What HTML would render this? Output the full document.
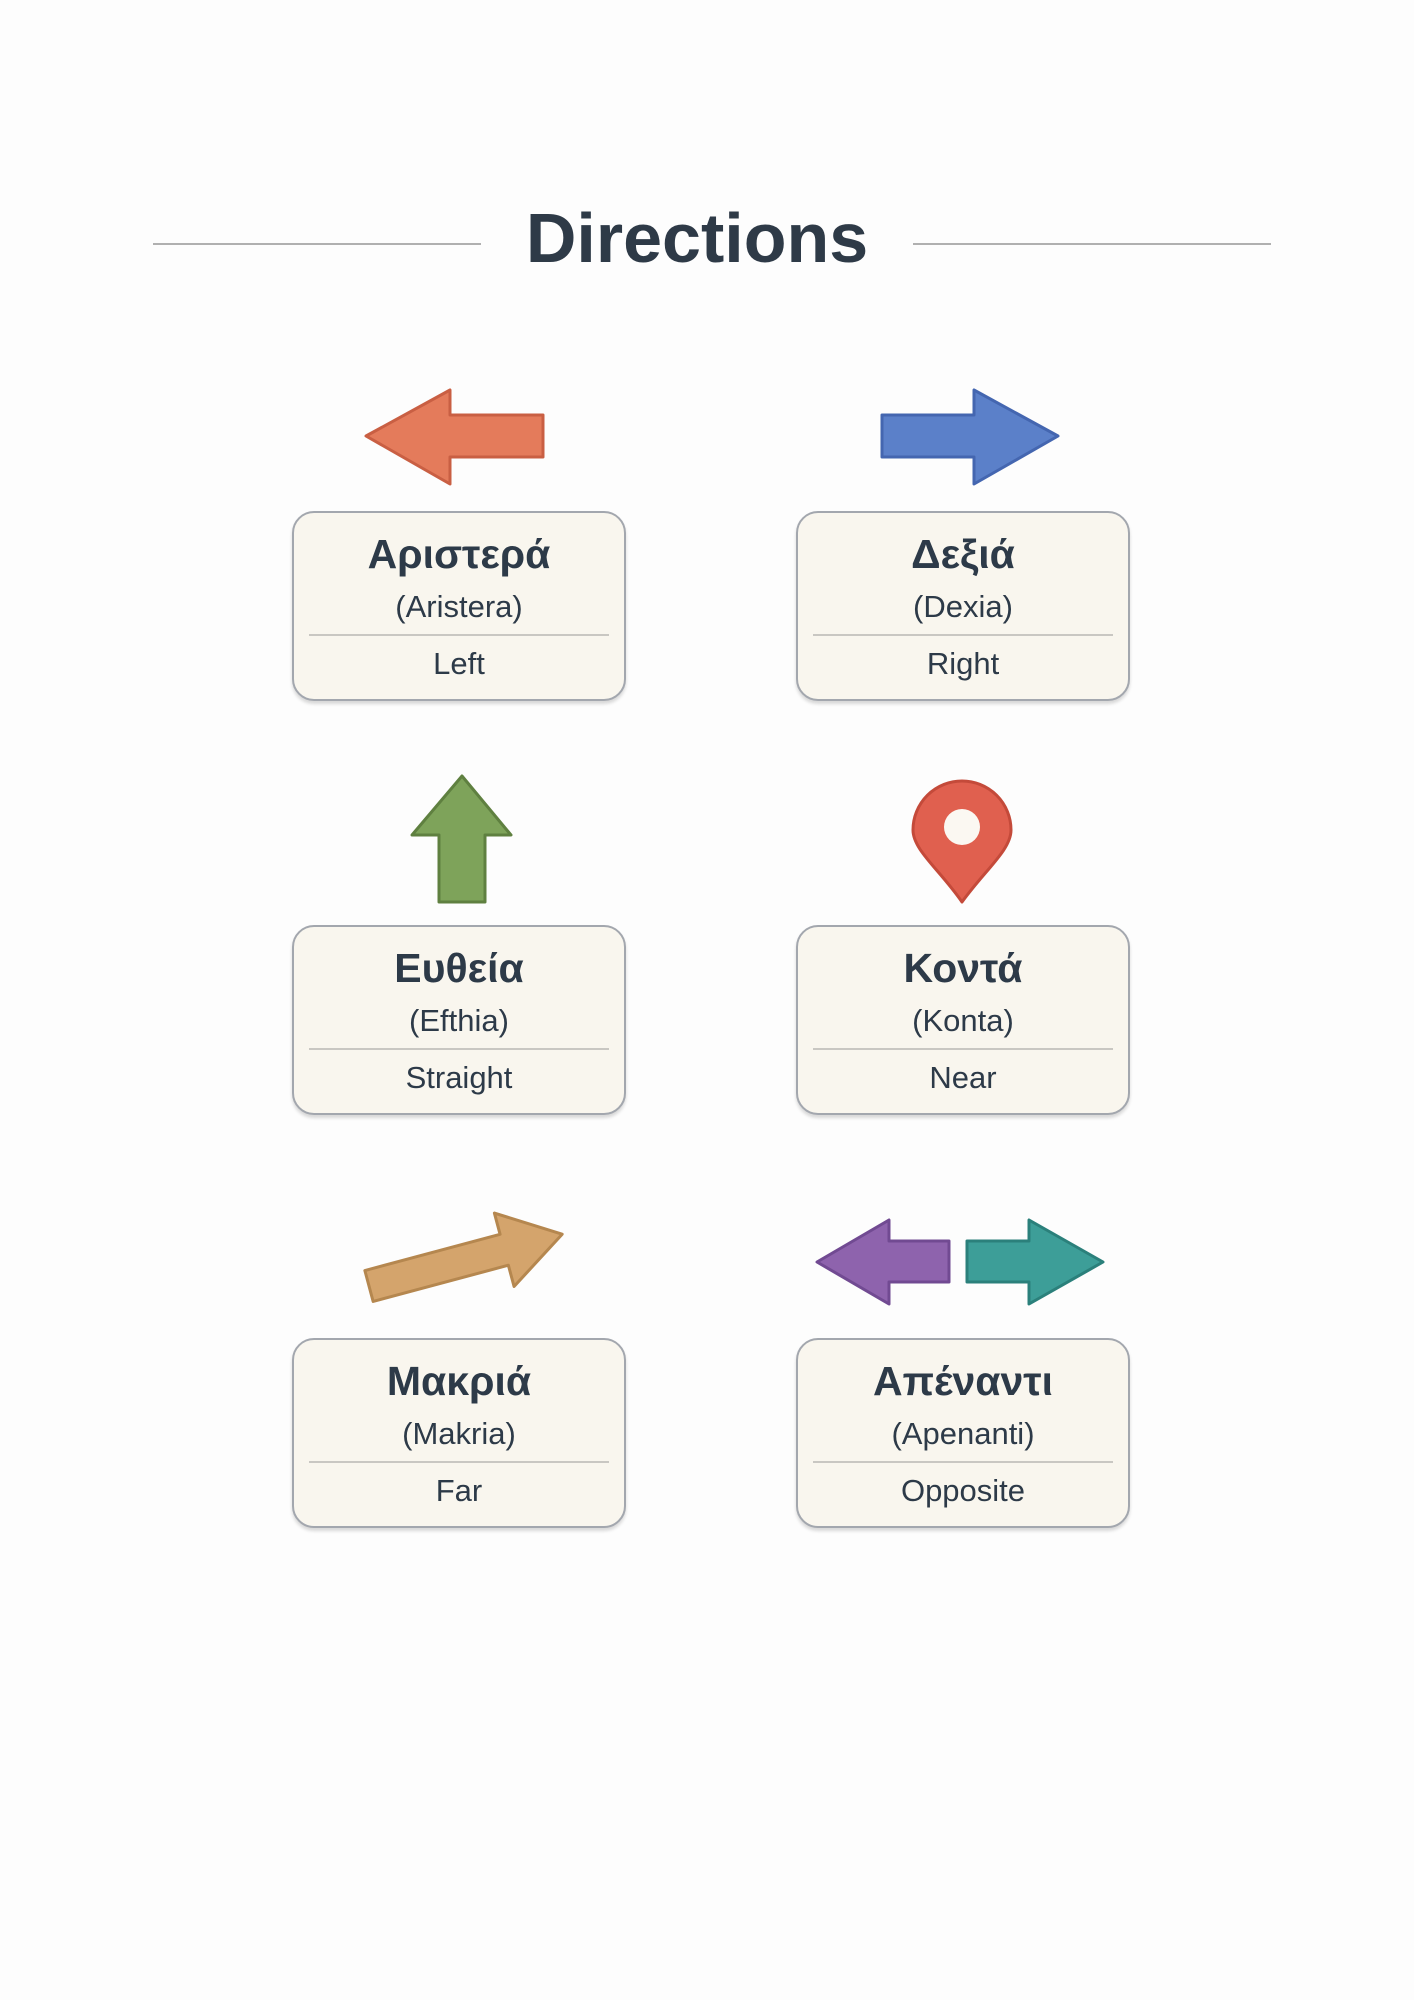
<!DOCTYPE html>
<html><head><meta charset="utf-8"><style>
body{margin:0;background:#fdfdfd;}
.p{position:relative;width:1414px;height:2000px;overflow:hidden;font-family:"Liberation Sans","DejaVu Sans",sans-serif;color:#2d3a48;}
.box{position:absolute;width:334px;height:190px;background:#f9f6ee;border:2px solid #a3a7ae;border-radius:22px;box-shadow:0 3px 3px rgba(0,0,0,0.15);box-sizing:border-box;}
.g{position:absolute;left:0;right:0;top:18px;text-align:center;font-size:41px;font-weight:bold;}
.r{position:absolute;left:0;right:0;top:76px;text-align:center;font-size:31px;}
.d{position:absolute;left:15px;right:15px;top:121px;border-top:2px solid #c9c7c2;}
.e{position:absolute;left:0;right:0;top:133px;text-align:center;font-size:31px;}
.line{position:absolute;height:2px;background:#b0b0b0;top:243px;}
</style></head><body><div class="p">
<div class="line" style="left:153px;width:328px"></div>
<div class="line" style="left:913px;width:358px"></div>
<div style="position:absolute;left:0;width:1394px;top:198px;text-align:center;font-size:70px;font-weight:bold;color:#2e3a47;">Directions</div>

<svg width="1414" height="2000" style="position:absolute;left:0;top:0">
<g stroke-linejoin="round" stroke-width="3">
<polygon points="366,436 450,390 450,415 543,415 543,457 450,457 450,484" fill="#e47b5b" stroke="#c95f43"/>
<polygon points="1058,436 974,390 974,415 882,415 882,457 974,457 974,484" fill="#5b80c9" stroke="#4466b0"/>
<polygon points="462,776 511,835 485,835 485,902 439,902 439,835 412,835" fill="#7ea35a" stroke="#5f8040"/>
<path d="M962,902 C940,870 913,850 913,830 A49,49 0 0 1 1011,830 C1011,850 985,870 962,902 Z" fill="#e0604f" stroke="#c44a3a"/>
<circle cx="962" cy="827" r="18" fill="#fbf8f2"/>
<g transform="translate(369,1286) rotate(-15)">
<polygon points="0,-16 140,-16 140,-38 200,0 140,38 140,16 0,16" fill="#d4a46c" stroke="#b5874f"/>
</g>
<polygon points="817,1262 889,1220 889,1241 949,1241 949,1282 889,1282 889,1304" fill="#8e63ad" stroke="#714a92"/>
<polygon points="1103,1262 1029,1220 1029,1241 967,1241 967,1282 1029,1282 1029,1304" fill="#3d9e98" stroke="#2b807b"/>
</g></svg>

<div class="box" style="left:292px;top:511px"><div class="g">Αριστερά</div><div class="r">(Aristera)</div><div class="d"></div><div class="e">Left</div></div>
<div class="box" style="left:796px;top:511px"><div class="g">Δεξιά</div><div class="r">(Dexia)</div><div class="d"></div><div class="e">Right</div></div>
<div class="box" style="left:292px;top:925px"><div class="g">Ευθεία</div><div class="r">(Efthia)</div><div class="d"></div><div class="e">Straight</div></div>
<div class="box" style="left:796px;top:925px"><div class="g">Κοντά</div><div class="r">(Konta)</div><div class="d"></div><div class="e">Near</div></div>
<div class="box" style="left:292px;top:1338px"><div class="g">Μακριά</div><div class="r">(Makria)</div><div class="d"></div><div class="e">Far</div></div>
<div class="box" style="left:796px;top:1338px"><div class="g">Απέναντι</div><div class="r">(Apenanti)</div><div class="d"></div><div class="e">Opposite</div></div>
</div></body></html>
